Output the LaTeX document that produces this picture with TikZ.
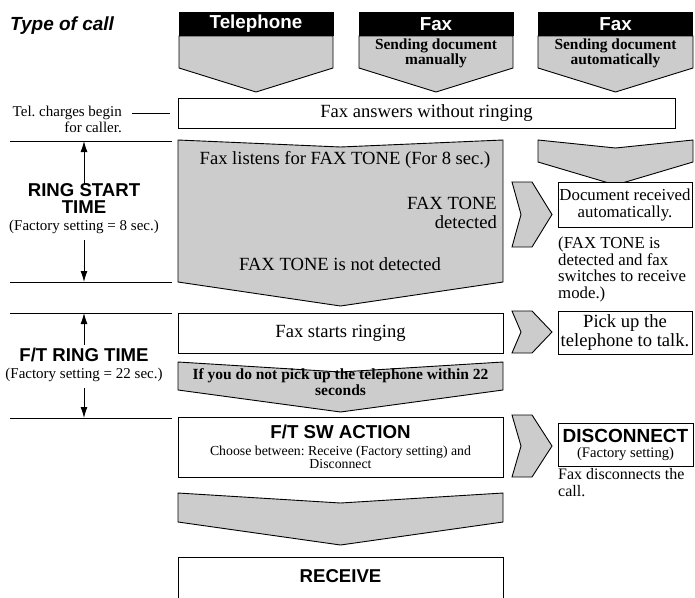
\documentclass[tikz,border=0pt]{standalone}
\usepackage{fontspec}
\setmainfont{Liberation Serif}
\setsansfont{Liberation Sans}
\usetikzlibrary{arrows.meta}
\definecolor{chevgray}{RGB}{204,204,204}
\frenchspacing
\tikzset{
  chev/.style={fill=chevgray,draw=black,line width=0.9pt},
  wbox/.style={draw,fill=white,line width=0.9pt,inner sep=0pt,align=center},
  hdr/.style={fill=black,text=white,inner sep=0pt,minimum width=155,minimum height=24,
    font=\sffamily\bfseries\fontsize{18.8}{20}\selectfont},
  plain/.style={inner sep=0pt,align=center},
  rule/.style={line width=0.9pt},
  sidehd/.style={plain,font=\sffamily\bfseries\fontsize{18.6}{17}\selectfont},
}
\newcommand{\downchev}[6]{%
  \filldraw[chev] (#1,#3) -- ({(#1+#2)/2},{#3+#4}) -- (#2,#3) -- (#2,#5)
    -- ({(#1+#2)/2},#6) -- (#1,#5) -- cycle;}
\newcommand{\rightchev}[2]{%
  \filldraw[chev] (512,#1) -- (532,#1) -- (552,{(#1+#2)/2}) -- (532,#2)
    -- (512,#2) -- (521,{(#1+#2)/2}) -- cycle;}

\begin{document}
\begin{tikzpicture}[x=1pt,y=-1pt,>={Latex[length=11pt,width=7pt]}]
  \useasboundingbox (0,0) rectangle (695,597);

  % type of call
  \node[plain,anchor=west,font=\sffamily\bfseries\itshape\fontsize{19}{21}\selectfont] (title) at (10,26) {Type of call};
  \downchev{179}{333}{36}{0}{68}{92}
  \downchev{359}{513}{36}{0}{68}{92}
  \downchev{538}{693}{36}{0}{68}{92}
  \node[hdr] (tel) at (256,24) {Telephone};
  \node[hdr] (faxman) at (436,24) {Fax};
  \node[hdr] (faxauto) at (615.5,24) {Fax};
  \node[plain,font=\bfseries\fontsize{15.4}{15}\selectfont] (manual) at (436,53) {Sending document\\manually};
  \node[plain,font=\bfseries\fontsize{15.4}{15}\selectfont] (auto) at (615.5,53) {Sending document\\automatically};

  % answering
  \node[wbox,minimum width=497,minimum height=30,font=\fontsize{18.6}{20}\selectfont] (answers) at (426.5,113) {Fax answers without ringing};
  \node[plain,anchor=north east,align=right,font=\fontsize{15}{16}\selectfont] (telchg) at (122,106) {Tel. charges begin\\for caller.};
  \draw[rule] ([xshift=-8pt]answers.west) -- ++(-38,0);

  % ring start time
  \downchev{178}{503}{140}{7}{282}{306}
  \node[plain,font=\fontsize{18.6}{20}\selectfont] (listen) at (345,160) {Fax listens for FAX TONE (For 8 sec.)};
  \node[plain,anchor=north east,align=right,font=\fontsize{18.6}{19}\selectfont] (toneyes) at (497,197) {FAX TONE\\detected};
  \node[plain,font=\fontsize{18.6}{20}\selectfont] (toneno) at (340,264) {FAX TONE is not detected};

  \downchev{538}{693}{140}{8}{162}{185}
  \rightchev{182}{247}
  \node[wbox,minimum width=134,minimum height=45,font=\fontsize{16.8}{17}\selectfont] (docrec) at (625,204.5) {Document received\\automatically.};
  \node[plain,anchor=north west,align=left,font=\fontsize{16.8}{16.5}\selectfont] (switch) at (558,237) {(FAX TONE is\\detected and fax\\switches to receive\\mode.)};

  \coordinate (r1) at (10,141);
  \coordinate (r2) at (10,282);
  \coordinate (r3) at (10,313);
  \coordinate (r4) at (10,418);
  \foreach \r in {r1,r2,r3,r4}
    \draw[rule] (\r) -- ++(162,0);
  \node[sidehd] (ringst) at (84,209) {RING START\\TIME\\{\rmfamily\mdseries\fontsize{15}{15}\selectfont (Factory setting = 8 sec.)}};
  \draw[->,rule] (ringst.north) -- (r1 -| ringst);
  \draw[->,rule] ([yshift=-6pt]ringst.south) -- (r2 -| ringst);

  % F/T ring time
  \node[wbox,minimum width=325,minimum height=40,font=\fontsize{18.6}{20}\selectfont] (ringing) at (340.5,333) {Fax starts ringing};
  \rightchev{311}{353}
  \node[wbox,minimum width=134,minimum height=43,font=\fontsize{18.6}{19}\selectfont] (pickup) at (625,332.5) {Pick up the\\telephone to talk.};

  \node[sidehd] (ftring) at (84,365) {F/T RING TIME\\{\rmfamily\mdseries\fontsize{15}{15}\selectfont (Factory setting = 22 sec.)}};
  \draw[->,rule] ([yshift=3pt]ftring.north) -- (r3 -| ftring);
  \draw[->,rule] ([yshift=-6pt]ftring.south) -- (r4 -| ftring);

  \downchev{178}{503}{362}{10}{390}{412}
  \node[plain,font=\bfseries\fontsize{15.5}{16.5}\selectfont] (nopick) at (340.5,382) {If you do not pick up the telephone within 22\\seconds};

  % F/T SW action
  \node[wbox,minimum width=325,minimum height=60,font=\fontsize{13.8}{13}\selectfont] (swaction) at (340.5,447) {{\sffamily\bfseries\fontsize{18.7}{19}\selectfont F/T SW ACTION}\\[4pt]Choose between: Receive (Factory setting) and\\Disconnect};
  \rightchev{415}{477}
  \node[wbox,minimum width=135,minimum height=43,font=\fontsize{14.6}{15}\selectfont] (disc) at (625.5,444.5) {{\sffamily\bfseries\fontsize{19}{19}\selectfont DISCONNECT}\\(Factory setting)};
  \node[plain,anchor=north west,align=left,font=\fontsize{16}{17}\selectfont] (discall) at (558,468) {Fax disconnects the\\call.};

  % receive
  \downchev{178}{503}{493}{10}{522}{545}
  \node[wbox,anchor=north,minimum width=325,minimum height=60] (receive) at (340.5,557) {};
  \node[sidehd] (recvtxt) at (340.5,576) {RECEIVE};
\end{tikzpicture}
\end{document}
